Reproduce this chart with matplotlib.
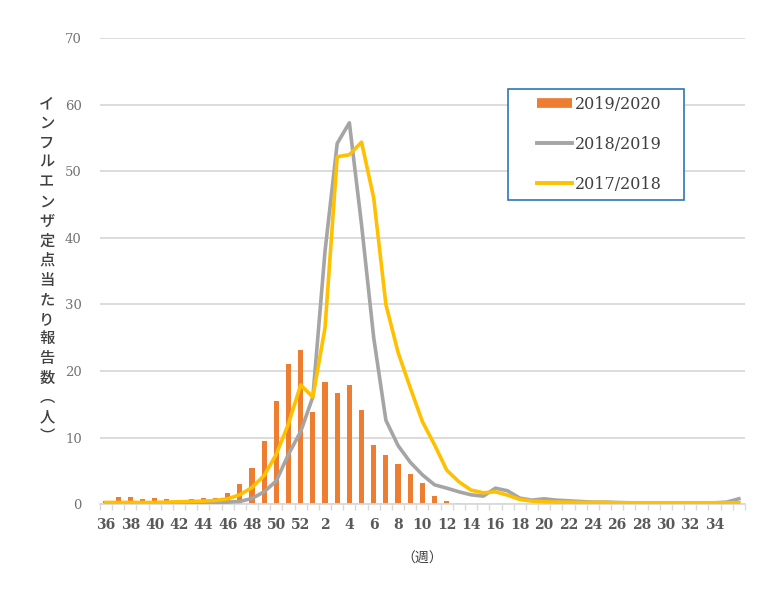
import matplotlib.pyplot as plt
from matplotlib.lines import Line2D
from matplotlib.patches import Rectangle

plt.rcParams['font.family'] = ['DejaVu Serif', 'Noto Sans CJK JP']

# weeks 36..52 then 1..36 (53 categories on the axis)
weeks = list(range(36, 53)) + list(range(1, 37))
tick_labels = [str(w) if i % 2 == 0 and i <= 50 else '' for i, w in enumerate(weeks)]

s2019_2020 = [0.5, 1.0, 1.0, 0.7, 0.9, 0.7, 0.6, 0.7, 0.9, 0.95,
              1.7, 3.0, 5.5, 9.5, 15.5, 21.1, 23.1, 13.9, 18.3, 16.7,
              17.9, 14.1, 8.9, 7.4, 6.1, 4.6, 3.1, 1.2, 0.5, 0.2]

s2018_2019 = [0.2, 0.2, 0.2, 0.2, 0.2, 0.2, 0.2, 0.2, 0.25, 0.25,
              0.3, 0.4, 0.85, 1.85, 3.5, 7.5, 10.9, 16.1, 38.0, 54.2,
              57.3, 42.0, 25.0, 12.6, 8.8, 6.3, 4.4, 2.9, 2.4, 1.85,
              1.4, 1.2, 2.4, 2.0, 0.9, 0.6, 0.8, 0.6, 0.5, 0.4,
              0.3, 0.3, 0.25, 0.2, 0.2, 0.2, 0.2, 0.2, 0.2, 0.2,
              0.2, 0.3, 0.8]

s2017_2018 = [0.25, 0.25, 0.25, 0.25, 0.25, 0.3, 0.35, 0.4, 0.45, 0.55,
              0.8, 1.4, 2.5, 4.3, 7.5, 12.1, 17.9, 16.1, 26.5, 52.2,
              52.5, 54.4, 46.0, 30.0, 22.8, 17.5, 12.4, 8.9, 5.1, 3.35,
              2.1, 1.7, 1.85, 1.35, 0.7, 0.45, 0.35, 0.3, 0.3, 0.25,
              0.25, 0.25, 0.2, 0.2, 0.2, 0.2, 0.2, 0.2, 0.2, 0.2,
              0.2, 0.2, 0.2]

orange = '#ED7D31'
gray = '#A5A5A5'
yellow = '#FFC000'

fig = plt.figure(figsize=(7.68, 5.98), dpi=100)
ax = fig.add_axes([0.130, 0.157, 0.840, 0.779])

x_all = list(range(len(weeks)))
ax.bar(range(len(s2019_2020)), s2019_2020, width=0.42, color=orange, zorder=2)
ax.plot(range(len(s2018_2019)), s2018_2019, color=gray, lw=2.6, zorder=3)
ax.plot(range(len(s2017_2018)), s2017_2018, color=yellow, lw=2.6, zorder=4)

ax.set_xlim(-0.5, len(weeks) - 0.5)
ax.set_ylim(0, 70)
ax.set_yticks(range(0, 71, 10))
ax.yaxis.grid(True, color='#D9D9D9', lw=1.3)
ax.set_axisbelow(True)
ax.tick_params(axis='y', length=0, labelsize=9.5, labelcolor='#737373', pad=13)

ax.set_xticks(x_all)
ax.set_xticklabels(tick_labels, fontsize=10, color='#595959', fontweight='bold')
ax.tick_params(axis='x', length=0, pad=10)
ax.set_xticks([i - 0.5 for i in range(len(weeks) + 1)], minor=True)
ax.tick_params(axis='x', which='minor', length=4, color='#D9D9D9', width=1)

for s in ['left', 'right', 'top']:
    ax.spines[s].set_visible(False)
ax.spines['bottom'].set_color('#D9D9D9')
ax.spines['bottom'].set_linewidth(1.3)

ax.set_xlabel('（週）', fontsize=10, color='#404040', family=['Noto Sans CJK JP'], labelpad=14)

ylabel = 'インフルエンザ定点当たり報告数' + '\ufe35人\ufe36'
fig.text(0.061, 0.548, '\n'.join(ylabel), ha='center', va='center', fontsize=11,
         color='#404040', family=['Noto Sans CJK JP', 'DejaVu Sans'], linespacing=1.2,
         fontweight='medium')

# legend box drawn separately so its size matches the reference
box = Rectangle((0.633, 0.652), 0.272, 0.239, transform=ax.transAxes, fill=True,
                facecolor='white', edgecolor='#2E75B6', lw=1.2, zorder=5)
ax.add_patch(box)
handles = [Line2D([], [], color=orange, lw=7, solid_capstyle='butt'),
           Line2D([], [], color=gray, lw=2.8),
           Line2D([], [], color=yellow, lw=2.8)]
leg = ax.legend(handles, ['2019/2020', '2018/2019', '2017/2018'],
                loc='upper left', bbox_to_anchor=(0.677, 0.877), fontsize=11.5,
                frameon=False, labelspacing=1.45, handlelength=2.2,
                handletextpad=0.2, borderpad=0, borderaxespad=0)
leg.set_zorder(6)
for t in leg.get_texts():
    t.set_color('#404040')

fig.savefig('out.png', dpi=100, facecolor='white')
